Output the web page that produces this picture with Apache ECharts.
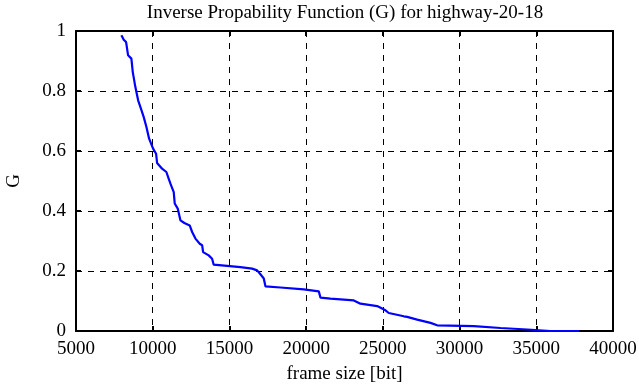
<!DOCTYPE html>
<html><head><meta charset="utf-8">
<script src="https://cdn.jsdelivr.net/npm/echarts@6/dist/echarts.min.js"></script>
<style>html,body{margin:0;padding:0;background:#fff}#c{width:639px;height:387px}</style>
</head><body><div id="c"></div>
<script>
var frameSize = [7960, 8110, 8265, 8395, 8610, 8700, 8870, 9050, 9265, 9415, 9590, 9765, 10025, 10220, 10285, 10610, 10890, 11040, 11155, 11370, 11435, 11630, 11805, 12065, 12410, 12570, 12785, 13065, 13220, 13285, 13650, 13870, 13975, 14850, 15715, 16480, 16805, 17020, 17240, 17345, 18325, 19845, 20825, 20935, 21585, 23105, 23540, 24630, 25170, 25385, 26365, 26585, 27235, 28105, 28540, 30930, 32670, 34410, 35930, 37780];
var gValues = [0.986, 0.971, 0.963, 0.919, 0.908, 0.863, 0.813, 0.769, 0.736, 0.713, 0.68, 0.641, 0.608, 0.591, 0.56, 0.541, 0.53, 0.508, 0.491, 0.463, 0.425, 0.408, 0.369, 0.36, 0.352, 0.33, 0.308, 0.291, 0.286, 0.263, 0.252, 0.241, 0.221, 0.217, 0.213, 0.208, 0.202, 0.189, 0.175, 0.149, 0.145, 0.139, 0.132, 0.111, 0.108, 0.102, 0.091, 0.083, 0.069, 0.06, 0.049, 0.047, 0.038, 0.027, 0.019, 0.016, 0.01, 0.005, 0.0, 0.0];
var titleText = 'Inverse Propability Function (G) for highway-20-18';
var xName = 'frame size [bit]';
var yName = 'G';

var data = frameSize.map(function(x, i){ return [x, gValues[i]]; });
var font = '"Liberation Serif", "DejaVu Serif", serif';
var fs = 19;
var chart = echarts.init(document.getElementById('c'), null, {renderer: 'canvas'});
var dashed = {show: true, lineStyle: {color: '#000', type: [6, 6], width: 1}};
chart.setOption({
  animation: false,
  backgroundColor: '#fff',
  title: {text: titleText, left: 340, textAlign: 'center', top: -1, textStyle: {fontFamily: font, fontSize: fs, fontWeight: 'normal', color: '#000'}},
  grid: {left: 76, right: 26, top: 31, bottom: 56, containLabel: false, outerBoundsMode: 'none'},
  xAxis: [{
    type: 'value', min: 5000, max: 40000, interval: 5000, position: 'bottom',
    name: xName, nameLocation: 'middle', nameGap: 34,
    nameTextStyle: {fontFamily: font, fontSize: fs, color: '#000'},
    axisLine: {show: true, lineStyle: {color: '#000', width: 2}},
    axisTick: {show: true, inside: true, length: 5, lineStyle: {color: '#000', width: 2}},
    axisLabel: {fontFamily: font, fontSize: fs, color: '#000', margin: 9, formatter: function(v){ return String(v); }},
    splitLine: dashed
  }, {
    type: 'value', min: 5000, max: 40000, interval: 5000, position: 'top',
    axisLine: {show: true, onZero: false, lineStyle: {color: '#000', width: 2}},
    axisTick: {show: true, inside: true, length: 5, lineStyle: {color: '#000', width: 2}},
    axisLabel: {show: false}, splitLine: {show: false}
  }],
  yAxis: [{
    type: 'value', min: 0, max: 1, interval: 0.2, position: 'left',
    name: yName, nameLocation: 'middle', nameGap: 52, nameRotate: 90,
    nameTextStyle: {fontFamily: font, fontSize: fs, color: '#000'},
    axisLine: {show: true, lineStyle: {color: '#000', width: 2}},
    axisTick: {show: true, inside: true, length: 5, lineStyle: {color: '#000', width: 2}},
    axisLabel: {fontFamily: font, fontSize: fs, color: '#000', margin: 10, formatter: function(v){ return String(v); }},
    splitLine: dashed
  }, {
    type: 'value', min: 0, max: 1, interval: 0.2, position: 'right',
    axisLine: {show: true, onZero: false, lineStyle: {color: '#000', width: 2}},
    axisTick: {show: true, inside: true, length: 5, lineStyle: {color: '#000', width: 2}},
    axisLabel: {show: false}, splitLine: {show: false}
  }],
  series: [{
    type: 'line', data: data, xAxisIndex: 0, yAxisIndex: 0,
    showSymbol: false, symbol: 'none',
    lineStyle: {color: '#0000ff', width: 2.2}
  }]
});
</script></body></html>
